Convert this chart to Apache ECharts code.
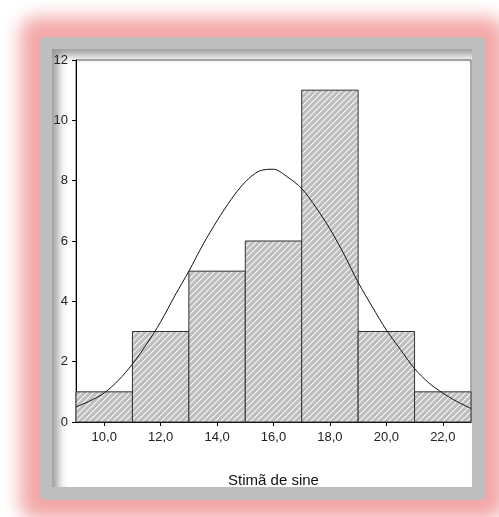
<!DOCTYPE html>
<html>
<head>
<meta charset="utf-8">
<script src="https://cdn.jsdelivr.net/npm/echarts@6/dist/echarts.min.js"></script>
<style>
    html, body { margin: 0; padding: 0; background: #fff; overflow: hidden; }
    #frame {
        position: absolute; left: 40px; top: 37px; width: 445px; height: 463px;
        background: #bebebe; border-radius: 5px;
        box-shadow: 0 0 18px 20px rgba(244, 168, 168, 1);
    }
    #inner {
        position: absolute; left: 52px; top: 49px; width: 420px; height: 438px;
        background: #fff;
        box-shadow: inset 7px 7px 10px -1px rgba(0, 0, 0, 0.4);
    }
    #main { position: absolute; left: 0; top: 0; width: 499px; height: 517px; }
</style>
</head>
<body>
<div id="frame"></div>
<div id="inner"></div>
<div id="main"></div>
<script>
    // histogram bins and counts
    var binStarts = [9, 11, 13, 15, 17, 19, 21];
    var binEnds = [11, 13, 15, 17, 19, 21, 23];
    var counts = [1, 3, 5, 6, 11, 3, 1];

    // normal curve
    var curveX = [9, 9.5, 10, 10.5, 11, 11.5, 12, 12.5, 13, 13.5, 14, 14.5, 15, 15.5, 16,
        16.5, 17, 17.5, 18, 18.5, 19, 19.5, 20, 20.5, 21, 21.5, 22, 22.5, 23];
    var curveY = [0.50, 0.70, 0.96, 1.38, 1.92, 2.58, 3.32, 4.18, 5.00, 5.88, 6.67, 7.38, 7.96, 8.32, 8.38,
        8.12, 7.74, 7.12, 6.40, 5.56, 4.63, 3.82, 3.05, 2.40, 1.77, 1.30, 0.96, 0.68, 0.45];

    var xTicks = [10, 12, 14, 16, 18, 20, 22];
    var xName = 'Stimã de sine';

    var font = '"Liberation Sans", Arial, sans-serif';

    // hatch fill: gray with white diagonal stripes
    var tile = document.createElement('canvas');
    tile.width = 6;
    tile.height = 6;
    var ctx = tile.getContext('2d');
    ctx.fillStyle = '#bfbfbf';
    ctx.fillRect(0, 0, 6, 6);
    for (var i = 0; i < 6; i++) {
        ctx.fillStyle = 'rgba(255,255,255,0.9)';
        ctx.fillRect(i, 5 - i, 1, 1);
        ctx.fillStyle = 'rgba(255,255,255,0.35)';
        ctx.fillRect((i + 1) % 6, 5 - i, 1, 1);
    }
    var hatch = {image: tile, repeat: 'repeat'};

    var bars = binStarts.map(function (s, i) {
        return [s, binEnds[i], counts[i]];
    });
    var curve = curveX.map(function (x, i) {
        return [x, curveY[i]];
    });

    var option = {
        animation: false,
        grid: {
            left: 76, top: 60, right: 28, bottom: 95,
            show: true, borderColor: '#555', borderWidth: 1
        },
        xAxis: {
            type: 'value',
            min: 9,
            max: 23,
            name: xName,
            nameLocation: 'middle',
            nameGap: 51,
            nameTextStyle: {fontFamily: font, fontSize: 15, color: '#111'},
            axisLine: {lineStyle: {color: '#000', width: 1}},
            axisTick: {customValues: xTicks, length: 4, lineStyle: {color: '#000'}},
            axisLabel: {
                customValues: xTicks,
                margin: 9,
                fontFamily: font, fontSize: 13, color: '#222',
                formatter: function (v) {
                    return v.toFixed(1).replace('.', ',');
                }
            },
            splitLine: {show: false}
        },
        yAxis: {
            type: 'value',
            min: 0,
            max: 12,
            interval: 2,
            axisLine: {show: true, lineStyle: {color: '#000', width: 1}},
            axisTick: {show: true, length: 4, lineStyle: {color: '#000'}},
            axisLabel: {margin: 8, fontFamily: font, fontSize: 13, color: '#222'},
            splitLine: {show: false}
        },
        series: [
            {
                type: 'custom',
                data: bars,
                encode: {x: [0, 1], y: 2},
                renderItem: function (params, api) {
                    var p0 = api.coord([api.value(0), 0]);
                    var p1 = api.coord([api.value(1), api.value(2)]);
                    return {
                        type: 'rect',
                        shape: {x: p0[0], y: p1[1], width: p1[0] - p0[0], height: p0[1] - p1[1]},
                        style: {fill: hatch, stroke: '#333', lineWidth: 1}
                    };
                },
                z: 2
            },
            {
                type: 'line',
                data: curve,
                smooth: 0.3,
                showSymbol: false,
                lineStyle: {color: '#111', width: 1},
                z: 3
            }
        ]
    };

    var myChart = echarts.init(document.getElementById('main'));
    myChart.setOption(option);
</script>
</body>
</html>
